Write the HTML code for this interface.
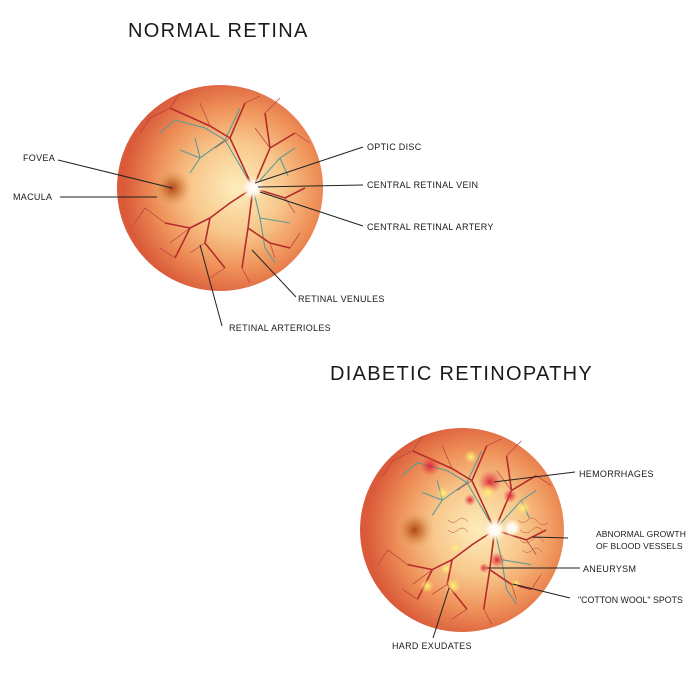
<!DOCTYPE html>
<html><head><meta charset="utf-8"><style>
html,body{margin:0;padding:0;background:#fff;width:700px;height:700px;overflow:hidden}
svg{display:block}
text{font-family:"Liberation Sans",sans-serif;fill:#1a1a1a}
.s{font-size:9px;letter-spacing:0.3px}
.t{font-size:20px;letter-spacing:1.3px}
</style></head><body>
<svg width="700" height="700" viewBox="0 0 700 700">
<defs>
<radialGradient id="rg" cx="0.58" cy="0.5" r="0.55">
<stop offset="0" stop-color="#fdedbc"/>
<stop offset="0.4" stop-color="#f8c88c"/>
<stop offset="0.72" stop-color="#ee9058"/>
<stop offset="1" stop-color="#da5a3a"/>
</radialGradient>
<radialGradient id="fv"><stop offset="0" stop-color="#ad4518"/><stop offset="0.45" stop-color="#d27c3e" stop-opacity="0.75"/><stop offset="1" stop-color="#f0b070" stop-opacity="0"/></radialGradient>
<radialGradient id="od"><stop offset="0" stop-color="#ffffff"/><stop offset="0.5" stop-color="#fff6e8"/><stop offset="1" stop-color="#fde8c0" stop-opacity="0"/></radialGradient>
<radialGradient id="hm"><stop offset="0" stop-color="#d8283a"/><stop offset="1" stop-color="#e84848" stop-opacity="0"/></radialGradient>
<radialGradient id="ex"><stop offset="0" stop-color="#fff47a"/><stop offset="1" stop-color="#ffe070" stop-opacity="0"/></radialGradient>
<g id="ret">
<circle cx="0" cy="0" r="103" fill="url(#rg)"/>
<circle cx="-48" cy="0" r="20" fill="url(#fv)"/>
<g fill="none" stroke="#5f9a96" stroke-width="1.1">
<path d="M33,0 L5,-48 L-15,-60 L-45,-68 M5,-48 L-20,-30 L-40,-38 M33,0 L60,-30 L75,-40 M33,0 L40,30 L45,60 M40,30 L70,35 M5,-48 L20,-80 M-20,-30 L-30,-15 M-45,-68 L-60,-55 M60,-30 L68,-12 M45,60 L55,75 M-20,-30 L-25,-50"/>
</g>
<g fill="none" stroke="#b52b2b" stroke-width="1.6">
<path d="M33,0 L10,-50 L-10,-62 L-50,-80 M10,-50 L25,-85 M33,0 L50,-40 L45,-75 M50,-40 L75,-55 M33,0 L10,15 L-10,30 L-30,40 L-45,70 M-10,30 L-15,55 L5,80 M33,0 L28,40 L22,80 M28,40 L50,55 L70,60 M33,0 L65,10 L85,0 M-30,40 L-55,35"/>
</g>
<g fill="none" stroke="#b84040" stroke-width="0.7">
<path d="M-50,-80 L-70,-70 M-10,-62 L-20,-85 M45,-75 L60,-90 M-45,70 L-60,60 M5,80 L-10,90 M22,80 L30,95 M70,60 L80,45 M-55,35 L-75,20 M-30,40 L-50,55 M25,-85 L40,-92 M75,-55 L90,-45 M-50,-80 L-40,-95 M10,-50 L-5,-40 M50,-40 L35,-60 M-15,55 L-30,65 M50,55 L55,70 M65,10 L75,25 M-70,-70 L-80,-55 M-75,20 L-85,35"/>
</g>
<circle cx="33" cy="0" r="12" fill="url(#od)"/>
</g>
</defs>

<text class="t" x="128" y="37">NORMAL RETINA</text>
<use href="#ret" transform="translate(220,188)"/>

<g stroke="#222" stroke-width="1" fill="none">
<line x1="58" y1="160" x2="172" y2="188"/>
<line x1="60" y1="197" x2="157" y2="197"/>
<line x1="363" y1="147" x2="255" y2="183"/>
<line x1="363" y1="185" x2="258" y2="187"/>
<line x1="363" y1="226" x2="260" y2="192"/>
<line x1="296" y1="297" x2="252" y2="250"/>
<line x1="222" y1="326" x2="200" y2="245"/>
</g>
<text class="s" x="23" y="161">FOVEA</text>
<text class="s" x="13" y="200">MACULA</text>
<text class="s" x="367" y="150">OPTIC DISC</text>
<text class="s" x="367" y="188">CENTRAL RETINAL VEIN</text>
<text class="s" x="367" y="230">CENTRAL RETINAL ARTERY</text>
<text class="s" x="298" y="302">RETINAL VENULES</text>
<text class="s" x="229" y="331">RETINAL ARTERIOLES</text>

<text class="t" x="330" y="380">DIABETIC RETINOPATHY</text>
<use href="#ret" transform="translate(462,530) scale(0.99)"/>
<g>
<circle cx="490" cy="482" r="12" fill="url(#hm)"/>
<circle cx="430" cy="466" r="10" fill="url(#hm)"/>
<circle cx="510" cy="496" r="7" fill="url(#hm)"/>
<circle cx="497" cy="560" r="8" fill="url(#hm)"/>
<circle cx="484" cy="568" r="5" fill="url(#hm)"/>
<circle cx="470" cy="500" r="6" fill="url(#hm)"/>
<circle cx="471" cy="457" r="7" fill="url(#ex)"/>
<circle cx="443" cy="493" r="6" fill="url(#ex)"/>
<circle cx="523" cy="508" r="7" fill="url(#ex)"/>
<circle cx="488" cy="492" r="8" fill="url(#ex)"/>
<circle cx="427" cy="586" r="7" fill="url(#ex)"/>
<circle cx="453" cy="586" r="8" fill="url(#ex)"/>
<circle cx="446" cy="569" r="5" fill="url(#ex)"/>
<circle cx="455" cy="548" r="5" fill="url(#ex)"/>
<circle cx="516" cy="584" r="5" fill="url(#ex)"/>
<circle cx="512" cy="528" r="9" fill="url(#od)"/>
</g>
<g fill="none" stroke="#b84a3a" stroke-width="0.5">
<path d="M518,520 q5,5 10,0 q5,-5 10,2 q5,6 10,0 M520,530 q6,6 12,0 q6,-6 12,2 M520,540 q6,6 12,0 q6,-6 12,2 M522,550 q5,5 10,0 q5,-5 10,2 M448,520 q5,5 10,0 q5,-5 10,2 M448,530 q5,5 10,0 q5,-5 10,2"/>
</g>
<g stroke="#222" stroke-width="1" fill="none">
<line x1="575" y1="472" x2="494" y2="482"/>
<line x1="568" y1="538" x2="532" y2="537"/>
<line x1="580" y1="568" x2="487" y2="568"/>
<line x1="570" y1="598" x2="513" y2="584"/>
<line x1="433" y1="638" x2="449" y2="588"/>
</g>
<text class="s" x="579" y="477">HEMORRHAGES</text>
<text class="s" x="596" y="537" style="font-size:8.5px;letter-spacing:0.1px">ABNORMAL GROWTH</text>
<text class="s" x="596" y="549" style="font-size:8.5px;letter-spacing:0.1px">OF BLOOD VESSELS</text>
<text class="s" x="583" y="572">ANEURYSM</text>
<text class="s" x="578" y="603" style="letter-spacing:0px;font-size:8.8px">"COTTON WOOL" SPOTS</text>
<text class="s" x="392" y="649">HARD EXUDATES</text>
</svg>
</body></html>
